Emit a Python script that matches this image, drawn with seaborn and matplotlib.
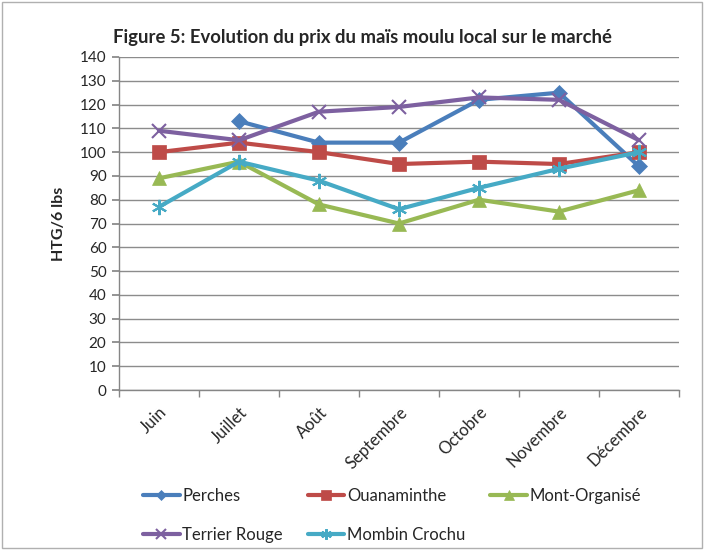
import matplotlib
matplotlib.use("Agg")
import matplotlib.pyplot as plt
import seaborn as sns
import numpy as np
import pandas as pd
from matplotlib.patches import Rectangle

months = ["Juin", "Juillet", "Août", "Septembre", "Octobre", "Novembre", "Décembre"]
perches = [np.nan, 113, 104, 104, 122, 125, 94]
ouanaminthe = [100, 104, 100, 95, 96, 95, 100]
mont_organise = [89, 96, 78, 70, 80, 75, 84]
terrier_rouge = [109, 105, 117, 119, 123, 122, 105]
mombin_crochu = [77, 96, 88, 76, 85, 93, 100]

series_names = ["Perches", "Ouanaminthe", "Mont-Organisé", "Terrier Rouge", "Mombin Crochu"]
series_vals = [perches, ouanaminthe, mont_organise, terrier_rouge, mombin_crochu]
colors = ["#4A7EBB", "#BE4B48", "#98B954", "#7D60A0", "#46AAC5"]
asterisk = (6, 2, 0)
markers = ["D", "s", "^", "x", asterisk]
msizes = [8, 10, 10, 10, 11]

rows = []
for name, vals in zip(series_names, series_vals):
    for i, v in enumerate(vals):
        rows.append({"idx": i, "month": months[i], "prix": v, "serie": name})
df = pd.DataFrame(rows)

sns.set_theme(style="white")
plt.rcParams['font.family'] = ['Lato', 'DejaVu Sans']

fig = plt.figure(figsize=(7.04, 5.50), dpi=100)
ax = fig.add_axes([119/704, 160/550, (679-119)/704, (390-57)/550])

for name, col, mk, ms in zip(series_names, colors, markers, msizes):
    sub = df[df["serie"] == name].dropna()
    sns.lineplot(data=sub, x="idx", y="prix", ax=ax, color=col, marker=mk,
                 markersize=ms, linewidth=3, markeredgecolor=col,
                 markeredgewidth=1.5 if mk in ("x", asterisk) else 0.5,
                 label=name, legend=False)

ax.set_xlim(-0.5, 6.5)
ax.set_ylim(0, 140)
ax.set_yticks(range(0, 141, 10))
ax.set_yticklabels([str(v) for v in range(0, 141, 10)], fontsize=11)
ax.set_xticks(range(7))
ax.set_xticklabels(months, rotation=45, ha="right", rotation_mode="anchor", fontsize=12)
ax.set_xticks(np.arange(-0.5, 7, 1), minor=True)
ax.tick_params(axis="x", which="major", length=0, pad=10)
ax.tick_params(axis="x", which="minor", length=5, color="#868686", direction="out", bottom=True)
ax.tick_params(axis="y", length=5, color="#868686", direction="out", left=True, pad=4)
ax.grid(axis="y", color="#8c8c8c", linewidth=1)
ax.set_axisbelow(True)
for s in ["top", "right"]:
    ax.spines[s].set_visible(False)
for s in ["left", "bottom"]:
    ax.spines[s].set_color("#868686")
    ax.spines[s].set_linewidth(1)
ax.set_xlabel("")
ax.set_ylabel("HTG/6 lbs", fontsize=11.5, fontweight="bold", labelpad=10)

fig.text(362/704, 1 - 37/550, "Figure 5: Evolution du prix du maïs moulu local sur le marché",
         ha="center", va="center", fontsize=13.3, fontweight="bold")

handles, labels = ax.get_legend_handles_labels()
order = [0, 3, 1, 4, 2]
fig.legend([handles[i] for i in order], [labels[i] for i in order],
           loc="upper left", bbox_to_anchor=(128/704, 1 - 473/550), ncol=3,
           frameon=False, fontsize=12, handlelength=2.2, handletextpad=0.15,
           columnspacing=1.5, labelspacing=1.4, markerscale=0.7)

fig.patches.append(Rectangle((0.003, 0.003), 0.994, 0.994, transform=fig.transFigure,
                             fill=False, edgecolor="#b0b0b0", linewidth=1))

fig.savefig("out.png", dpi=100)
